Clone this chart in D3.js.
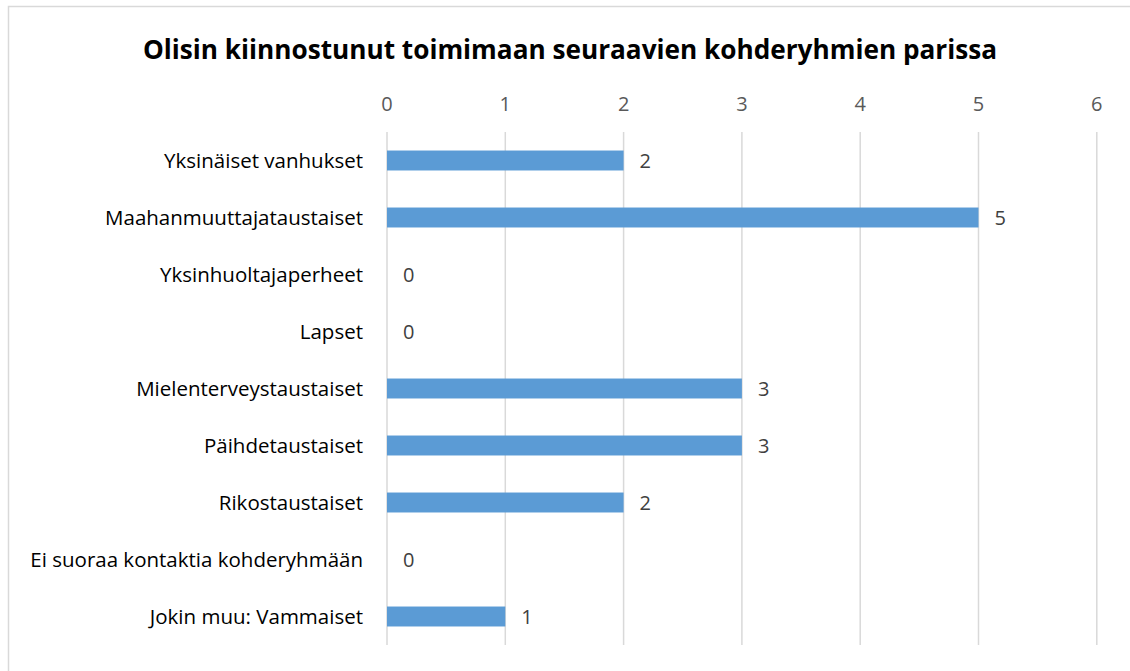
<!DOCTYPE html>
<html>
<head>
<meta charset="utf-8">
<script src="https://cdn.jsdelivr.net/npm/d3@7"></script>
<style>
  body { margin: 0; background: #fff; }
  text { font-family: "Open Sans", "Noto Sans", sans-serif; }
</style>
</head>
<body>
<div id="chart"></div>
<script>
const categories = ['Yksinäiset vanhukset', 'Maahanmuuttajataustaiset', 'Yksinhuoltajaperheet', 'Lapset',
    'Mielenterveystaustaiset', 'Päihdetaustaiset', 'Rikostaustaiset', 'Ei suoraa kontaktia kohderyhmään',
    'Jokin muu: Vammaiset'];
const values = [2, 5, 0, 0, 3, 3, 2, 0, 1];
const ticks = [0, 1, 2, 3, 4, 5, 6];
const title = 'Olisin kiinnostunut toimimaan seuraavien kohderyhmien parissa';

const width = 1130;
const height = 671;
const margin = {top: 132, right: 33, bottom: 26, left: 387};

const svg = d3.select('#chart')
    .append('svg')
        .attr('width', width)
        .attr('height', height);

// chart border
svg.append('rect')
    .attr('x', 8.5).attr('y', 6.5)
    .attr('width', width).attr('height', height)
    .attr('fill', 'none')
    .attr('stroke', '#d9d9d9')
    .attr('stroke-width', 1.5);

const x = d3.scaleLinear()
    .domain([0, 6])
    .range([margin.left, margin.left + 6 * 118.3]);

const y = d3.scaleBand()
    .domain(categories)
    .range([margin.top, height - margin.bottom])
    .paddingInner(0.65)
    .paddingOuter(0.325);

svg.append('text')
    .attr('x', 570)
    .attr('y', 59)
    .attr('text-anchor', 'middle')
    .attr('font-weight', 'bold')
    .attr('font-size', 26)
    .attr('textLength', 854)
    .attr('lengthAdjust', 'spacingAndGlyphs')
    .attr('fill', '#000')
    .text(title);

// gridlines
svg.append('g')
    .selectAll('line')
    .data(ticks)
    .join('line')
        .attr('x1', d => x(d)).attr('x2', d => x(d))
        .attr('y1', margin.top).attr('y2', height - margin.bottom)
        .attr('stroke', '#d9d9d9')
        .attr('stroke-width', 1.5);

// top tick labels
svg.append('g')
    .selectAll('text')
    .data(ticks)
    .join('text')
        .attr('x', d => x(d))
        .attr('y', 111)
        .attr('text-anchor', 'middle')
        .attr('font-size', 20)
        .attr('fill', '#595959')
        .text(d => d);

// bars
svg.append('g')
    .selectAll('rect')
    .data(values)
    .join('rect')
        .attr('x', x(0))
        .attr('y', (d, i) => y(categories[i]))
        .attr('width', d => x(d) - x(0))
        .attr('height', y.bandwidth())
        .attr('fill', '#5B9BD5');

// category labels
svg.append('g')
    .selectAll('text')
    .data(categories)
    .join('text')
        .attr('x', 363)
        .attr('y', d => y(d) + y.bandwidth() / 2)
        .attr('dy', '0.35em')
        .attr('text-anchor', 'end')
        .attr('font-size', 20.5)
        .attr('fill', '#000')
        .text(d => d);

// value labels
svg.append('g')
    .selectAll('text')
    .data(values)
    .join('text')
        .attr('x', d => x(d) + 16)
        .attr('y', (d, i) => y(categories[i]) + y.bandwidth() / 2)
        .attr('dy', '0.35em')
        .attr('font-size', 20)
        .attr('fill', '#404040')
        .text(d => d);
</script>
</body>
</html>
